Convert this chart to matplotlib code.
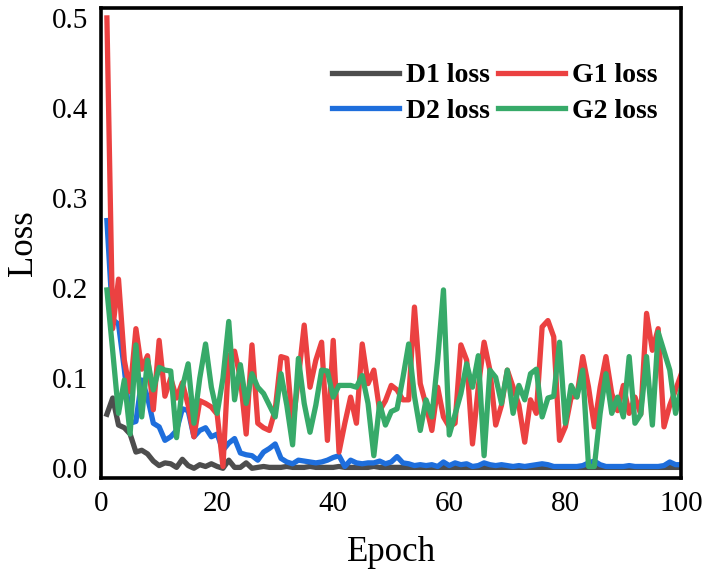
import matplotlib
matplotlib.use("Agg")
import matplotlib.pyplot as plt

epochs = list(range(1, 101))

d1_loss = [0.060, 0.078, 0.048, 0.045, 0.038, 0.018, 0.020, 0.016, 0.008, 0.003,
           0.006, 0.005, 0.001, 0.010, 0.003, 0.000, 0.004, 0.002, 0.005, 0.002,
           0.000, 0.009, 0.001, 0.001, 0.006, 0.000, 0.001, 0.002, 0.001, 0.001,
           0.001, 0.002, 0.001, 0.001, 0.001, 0.002, 0.001, 0.001, 0.001, 0.001,
           0.002, 0.001, 0.001, 0.001, 0.001, 0.001, 0.002, 0.001, 0.001, 0.001,
           0.001, 0.001, 0.001, 0.001, 0.001, 0.001, 0.001, 0.001, 0.001, 0.001,
           0.001, 0.001, 0.001, 0.001, 0.001, 0.001, 0.001, 0.001, 0.001, 0.001,
           0.001, 0.001, 0.001, 0.001, 0.001, 0.001, 0.001, 0.001, 0.001, 0.001,
           0.001, 0.001, 0.001, 0.001, 0.001, 0.001, 0.001, 0.001, 0.001, 0.001,
           0.001, 0.001, 0.001, 0.001, 0.001, 0.001, 0.001, 0.001, 0.001, 0.001]

d2_loss = [0.275, 0.165, 0.160, 0.110, 0.050, 0.052, 0.098, 0.079, 0.050, 0.046,
           0.031, 0.035, 0.042, 0.066, 0.064, 0.035, 0.042, 0.045, 0.035, 0.038,
           0.020, 0.028, 0.033, 0.017, 0.015, 0.014, 0.009, 0.018, 0.022, 0.027,
           0.011, 0.007, 0.005, 0.009, 0.008, 0.007, 0.006, 0.007, 0.009, 0.012,
           0.014, 0.002, 0.009, 0.006, 0.005, 0.006, 0.006, 0.008, 0.005, 0.007,
           0.013, 0.006, 0.005, 0.003, 0.004, 0.003, 0.004, 0.002, 0.007, 0.003,
           0.006, 0.004, 0.005, 0.002, 0.003, 0.006, 0.004, 0.003, 0.004, 0.003,
           0.002, 0.003, 0.002, 0.003, 0.004, 0.005, 0.004, 0.002, 0.002, 0.002,
           0.002, 0.002, 0.003, 0.006, 0.008, 0.004, 0.002, 0.002, 0.002, 0.002,
           0.003, 0.002, 0.002, 0.002, 0.002, 0.002, 0.003, 0.007, 0.004, 0.004]

g1_loss = [0.500, 0.155, 0.210, 0.120, 0.085, 0.155, 0.110, 0.125, 0.065, 0.142,
           0.080, 0.100, 0.078, 0.095, 0.070, 0.035, 0.075, 0.072, 0.068, 0.060,
           0.002, 0.125, 0.130, 0.100, 0.038, 0.137, 0.050, 0.045, 0.042, 0.065,
           0.124, 0.122, 0.046, 0.100, 0.159, 0.090, 0.120, 0.140, 0.031, 0.142,
           0.018, 0.050, 0.079, 0.050, 0.138, 0.094, 0.109, 0.064, 0.075, 0.092,
           0.087, 0.076, 0.076, 0.179, 0.094, 0.070, 0.042, 0.090, 0.057, 0.046,
           0.050, 0.137, 0.120, 0.027, 0.090, 0.140, 0.109, 0.048, 0.070, 0.109,
           0.090, 0.070, 0.029, 0.076, 0.061, 0.157, 0.164, 0.146, 0.031, 0.046,
           0.079, 0.080, 0.124, 0.090, 0.046, 0.090, 0.124, 0.083, 0.064, 0.092,
           0.061, 0.079, 0.060, 0.172, 0.131, 0.155, 0.046, 0.070, 0.087, 0.105]

g2_loss = [0.198, 0.130, 0.061, 0.098, 0.038, 0.137, 0.057, 0.120, 0.087, 0.112,
           0.109, 0.108, 0.034, 0.090, 0.116, 0.050, 0.100, 0.138, 0.090, 0.061,
           0.100, 0.163, 0.076, 0.115, 0.072, 0.105, 0.090, 0.083, 0.070, 0.057,
           0.105, 0.070, 0.026, 0.122, 0.072, 0.040, 0.070, 0.109, 0.108, 0.079,
           0.092, 0.092, 0.092, 0.090, 0.103, 0.072, 0.014, 0.072, 0.048, 0.063,
           0.066, 0.100, 0.138, 0.080, 0.042, 0.076, 0.057, 0.120, 0.198, 0.037,
           0.060, 0.083, 0.116, 0.090, 0.125, 0.014, 0.109, 0.101, 0.072, 0.109,
           0.061, 0.092, 0.076, 0.105, 0.110, 0.057, 0.078, 0.080, 0.140, 0.050,
           0.092, 0.079, 0.109, 0.002, 0.002, 0.061, 0.105, 0.061, 0.079, 0.057,
           0.124, 0.050, 0.060, 0.124, 0.048, 0.151, 0.130, 0.109, 0.061, 0.090]

series_names = ["D1 loss", "D2 loss", "G1 loss", "G2 loss"]
series_colors = ["#4d4d4d", "#1e6edc", "#eb4141", "#37aa69"]
x_ticks = [0, 20, 40, 60, 80, 100]
y_ticks = [0.0, 0.1, 0.2, 0.3, 0.4, 0.5]

plt.rcParams["font.family"] = ["Liberation Serif", "DejaVu Serif"]

fig = plt.figure(figsize=(7.12, 5.72), dpi=100)
ax = fig.add_axes([0.142, 0.164, 0.815, 0.822])

for vals, name, col in zip([d1_loss, d2_loss, g1_loss, g2_loss], series_names, series_colors):
    ax.plot(epochs, vals, color=col, lw=3.8, label=name, solid_joinstyle="round")

ax.set_xlim(0, 100)
ax.set_ylim(-0.011, 0.511)
ax.set_xticks(x_ticks)
ax.set_yticks(y_ticks)
ax.set_xticklabels([str(t) for t in x_ticks])
ax.set_yticklabels([f"{t:.1f}" for t in y_ticks])
ax.tick_params(axis="both", length=0, labelsize=21, pad=9)

for sp in ax.spines.values():
    sp.set_linewidth(2.6)
    sp.set_color("black")

ax.set_xlabel("Epoch", fontsize=25, labelpad=14)
ax.set_ylabel("Loss", fontsize=25, labelpad=9)

leg = ax.legend(ncol=2, loc="upper right", bbox_to_anchor=(0.958, 0.883),
                frameon=False, prop={"weight": "bold", "size": 20},
                handlelength=2.4, handletextpad=0.25, columnspacing=0.3,
                labelspacing=0.35, borderaxespad=0, borderpad=0)

fig.savefig("out.png", dpi=100)
